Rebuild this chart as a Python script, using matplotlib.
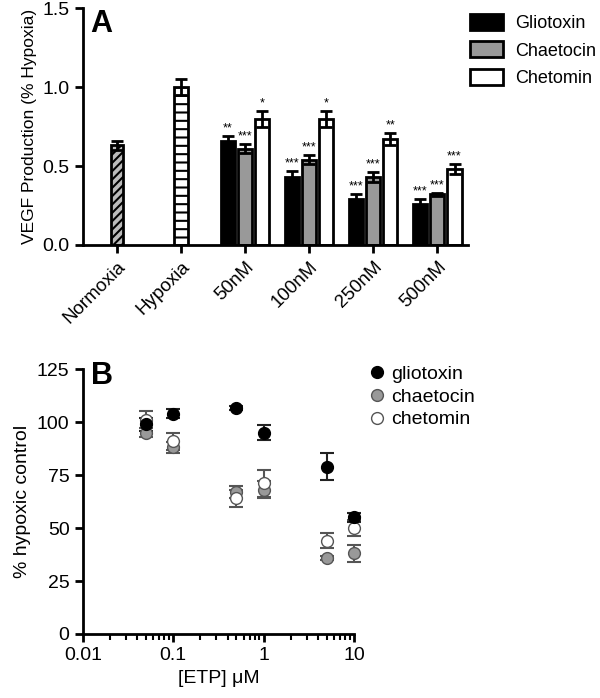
import numpy as np
from matplotlib import pyplot as plt
from matplotlib.patches import Patch
from matplotlib.lines import Line2D

plt.rcParams['font.family'] = ['Liberation Sans', 'DejaVu Sans']
plt.rcParams['hatch.linewidth'] = 1.5

# Panel A data
controls = ["Normoxia", "Hypoxia"]
control_vals = [0.63, 1.00]
control_err = [0.03, 0.05]
doses = ["50nM", "100nM", "250nM", "500nM"]
glio_a = [0.66, 0.43, 0.29, 0.26]
glio_a_err = [0.03, 0.04, 0.03, 0.03]
chae_a = [0.61, 0.54, 0.43, 0.32]
chae_a_err = [0.03, 0.03, 0.03, 0.01]
chet_a = [0.80, 0.80, 0.67, 0.48]
chet_a_err = [0.05, 0.05, 0.04, 0.03]
glio_stars = ["**", "***", "***", "***"]
chae_stars = ["***", "***", "***", "***"]
chet_stars = ["*", "*", "**", "***"]

# Panel B data
conc = [0.05, 0.1, 0.5, 1, 5, 10]
glio_b = [99, 104, 106.5, 95, 79, 55]
glio_b_err = [3, 2, 1, 3.5, 6.5, 2]
chae_b = [95, 88, 67, 68, 36, 38]
chae_b_err = [2, 2.5, 3, 4, 1, 4]
chet_b = [101, 91, 64, 71, 44, 50]
chet_b_err = [4, 4, 4, 6.5, 3.5, 4]

fig = plt.figure(figsize=(6, 6.98), dpi=100)

# ---- Panel A ----
ax = fig.add_axes([0.138, 0.649, 0.642, 0.3395])
w = 0.22
ax.bar(0, control_vals[0], width=0.18, color="#bbbbbb", edgecolor="black",
       linewidth=2, hatch="////", yerr=control_err[0], capsize=4,
       error_kw=dict(elinewidth=2, capthick=2))
ax.bar(1, control_vals[1], width=w, color="white", edgecolor="black",
       linewidth=2, hatch="--", yerr=control_err[1], capsize=4,
       error_kw=dict(elinewidth=2, capthick=2))
pos = np.arange(2, 6)
series = [(glio_a, glio_a_err, "black", glio_stars, -0.27),
          (chae_a, chae_a_err, "#999999", chae_stars, 0.0),
          (chet_a, chet_a_err, "white", chet_stars, 0.27)]
for vals, err, col, stars, off in series:
    ax.bar(pos + off, vals, width=w, color=col, edgecolor="black", linewidth=2,
           yerr=err, capsize=4, error_kw=dict(elinewidth=2, capthick=2))
    for x, v, e, s in zip(pos + off, vals, err, stars):
        ax.text(x, v + e + 0.01, s, ha="center", va="bottom", fontsize=9)

ax.set_xlim(-0.53, 5.48)
ax.set_ylim(0, 1.5)
ax.set_yticks([0, 0.5, 1.0, 1.5])
ax.set_yticklabels(["0.0", "0.5", "1.0", "1.5"], fontsize=14)
ax.set_xticks(range(6))
ax.set_xticklabels(controls + doses, rotation=45, ha="right",
                   rotation_mode="anchor", fontsize=13.5)
ax.set_ylabel("VEGF Production (% Hypoxia)", fontsize=12.5)
for s in ["top", "right"]:
    ax.spines[s].set_visible(False)
for s in ["left", "bottom"]:
    ax.spines[s].set_linewidth(2)
ax.tick_params(width=2, length=6)
ax.text(0.02, 0.995, "A", transform=ax.transAxes, fontsize=22,
        fontweight="bold", va="top")

handles = [Patch(facecolor="black", edgecolor="black", linewidth=2, label="Gliotoxin"),
           Patch(facecolor="#999999", edgecolor="black", linewidth=2, label="Chaetocin"),
           Patch(facecolor="white", edgecolor="black", linewidth=2, label="Chetomin")]
fig.legend(handles=handles, loc="upper left", bbox_to_anchor=(0.783, 0.98),
           frameon=False, fontsize=13, handlelength=1.85, handleheight=1.0,
           handletextpad=0.65, labelspacing=0.5, borderpad=0, borderaxespad=0)

# ---- Panel B ----
bx = fig.add_axes([0.138, 0.0917, 0.452, 0.3796])
kw = dict(fmt="o", ms=8.5, capsize=5, elinewidth=1.5, capthick=1.5, clip_on=False)
bx.errorbar(conc, chae_b, yerr=chae_b_err, color="#555555",
            mfc="#999999", mec="#555555", label="chaetocin", **kw)
bx.errorbar(conc, chet_b, yerr=chet_b_err, color="#555555",
            mfc="white", mec="#555555", label="chetomin", **kw)
bx.errorbar(conc, glio_b, yerr=glio_b_err, color="#222222",
            mfc="black", mec="black", label="gliotoxin", **kw)
bx.set_xscale("log")
bx.set_xlim(0.01, 10)
bx.set_ylim(0, 125)
bx.set_yticks([0, 25, 50, 75, 100, 125])
bx.set_xticks([0.01, 0.1, 1, 10])
bx.set_xticklabels(["0.01", "0.1", "1", "10"])
bx.tick_params(labelsize=14, width=2, length=6)
bx.tick_params(which="minor", width=1.5, length=4)
bx.set_ylabel("% hypoxic control", fontsize=14)
bx.set_xlabel("[ETP] \u03bcM", fontsize=14)
for s in ["top", "right"]:
    bx.spines[s].set_visible(False)
for s in ["left", "bottom"]:
    bx.spines[s].set_linewidth(2)
bx.text(0.03, 1.03, "B", transform=bx.transAxes, fontsize=22,
        fontweight="bold", va="top")

lh = [Line2D([], [], ls="", marker="o", mfc="black", mec="black", ms=8.5),
      Line2D([], [], ls="", marker="o", mfc="#999999", mec="#555555", ms=8.5),
      Line2D([], [], ls="", marker="o", mfc="white", mec="#555555", ms=8.5)]
fig.legend(lh, ["gliotoxin", "chaetocin", "chetomin"], loc="upper left",
           bbox_to_anchor=(0.618, 0.477), frameon=False, fontsize=14,
           handlelength=0.6, handletextpad=0.45, labelspacing=0.27,
           borderpad=0, borderaxespad=0)

fig.savefig("out.png", dpi=100)
